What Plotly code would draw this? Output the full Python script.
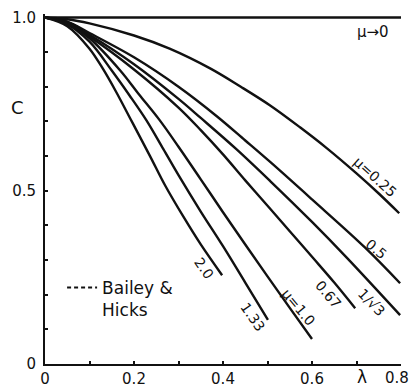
import plotly.graph_objects as go

# ---- data (lambda, C) ----
lam_mu0 = [0.0, 0.8]
c_mu0 = [1.0, 1.0]

lam_025 = [0, 0.05, 0.1, 0.2, 0.28, 0.371, 0.44, 0.506, 0.573, 0.633, 0.7, 0.75, 0.796]
c_025 = [1, 0.995, 0.983, 0.948, 0.91, 0.853, 0.80, 0.746, 0.683, 0.623, 0.55, 0.492, 0.435]

lam_05 = [0, 0.05, 0.1, 0.2, 0.3, 0.386, 0.45, 0.506, 0.6, 0.72, 0.798]
c_05 = [1, 0.988, 0.955, 0.885, 0.80, 0.715, 0.645, 0.583, 0.475, 0.335, 0.233]

lam_rt3 = [0, 0.05, 0.1, 0.2, 0.3, 0.35, 0.43, 0.506, 0.6, 0.678, 0.798]
c_rt3 = [1, 0.987, 0.95, 0.865, 0.765, 0.71, 0.62, 0.528, 0.41, 0.307, 0.141]

lam_067 = [0, 0.05, 0.1, 0.2, 0.3, 0.35, 0.4, 0.45, 0.506, 0.55, 0.603, 0.65, 0.697]
c_067 = [1, 0.985, 0.945, 0.85, 0.74, 0.675, 0.605, 0.53, 0.448, 0.383, 0.305, 0.235, 0.161]

lam_10 = [0, 0.05, 0.1, 0.169, 0.21, 0.258, 0.3, 0.35, 0.4, 0.45, 0.5, 0.55, 0.6]
c_10 = [1, 0.983, 0.94, 0.847, 0.78, 0.703, 0.627, 0.533, 0.438, 0.345, 0.253, 0.162, 0.072]

lam_133 = [0, 0.05, 0.1, 0.15, 0.19, 0.228, 0.266, 0.3, 0.35, 0.4, 0.45, 0.501]
c_133 = [1, 0.98, 0.93, 0.847, 0.775, 0.703, 0.62, 0.545, 0.44, 0.34, 0.235, 0.127]

lam_20 = [0, 0.05, 0.1, 0.131, 0.16, 0.195, 0.236, 0.27, 0.311, 0.35, 0.398]
c_20 = [1, 0.975, 0.91, 0.85, 0.785, 0.70, 0.60, 0.515, 0.425, 0.345, 0.256]

x_tickvals = [0, 0.1, 0.2, 0.3, 0.4, 0.5, 0.6, 0.7, 0.8]
x_ticktext = ["0", "", "0.2", "", "0.4", "", "0.6", "", ""]
x_last_label = "0.8"   # drawn slightly inside the right edge, as in the reference
y_tickvals = [0, 0.1, 0.2, 0.3, 0.4, 0.5, 0.6, 0.7, 0.8, 0.9, 1.0]
y_ticktext = ["0", "", "", "", "", "0.5", "", "", "", "", "1.0"]

curves = [
    (lam_mu0, c_mu0), (lam_025, c_025), (lam_05, c_05), (lam_rt3, c_rt3),
    (lam_067, c_067), (lam_10, c_10), (lam_133, c_133), (lam_20, c_20),
]

# label text, position (data coords), rotation
labels = [
    ("μ→0", 0.737, 0.957, 0),
    ("μ=0.25", 0.742, 0.539, 42),
    ("0.5", 0.744, 0.331, 40),
    ("1/√3", 0.733, 0.179, 46),
    ("0.67", 0.636, 0.202, 50),
    ("μ=1.0", 0.569, 0.164, 50),
    ("1.33", 0.467, 0.135, 55),
    ("2.0", 0.357, 0.277, 55),
]

FONT = "DejaVu Sans"
INK = "#111111"
PW, PH = 356, 350.5  # plot area size in px

fig = go.Figure()
for lx, cy in curves:
    fig.add_trace(go.Scatter(x=lx, y=cy, mode="lines", line=dict(color=INK, width=2.4, shape="spline"),
                             showlegend=False, hoverinfo="skip"))

# legend-only entry for the dashed Bailey & Hicks curves
fig.add_trace(go.Scatter(x=[None], y=[None], mode="lines", name="Bailey &<br>Hicks",
                         line=dict(color=INK, width=2, dash="4px,3px"), showlegend=True))

for txt, x, y, ang in labels:
    fig.add_annotation(x=x, y=y, text=txt, showarrow=False, textangle=ang,
                       font=dict(family=FONT, size=14 if ang else 15, color=INK))

# axis titles and last tick label, placed in paper coordinates
fig.add_annotation(xref="paper", yref="paper", x=-28 / PW, y=1 - 94 / PH, text="C", showarrow=False,
                   xanchor="center", yanchor="middle",
                   font=dict(family=FONT, size=18, color=INK))
fig.add_annotation(xref="paper", yref="paper", x=317 / PW, y=-13 / PH, text="λ", showarrow=False,
                   xanchor="center", yanchor="middle",
                   font=dict(family=FONT, size=17, color=INK))
fig.add_annotation(xref="paper", yref="paper", x=352 / PW, y=-14 / PH, text=x_last_label, showarrow=False,
                   xanchor="center", yanchor="middle",
                   font=dict(family=FONT, size=15, color=INK))

fig.update_xaxes(range=[0, 0.8], tickvals=x_tickvals, ticktext=x_ticktext,
                 showline=True, linecolor=INK, linewidth=2, ticks="inside", ticklen=3,
                 tickcolor=INK, tickwidth=1.5, showgrid=False, zeroline=False,
                 ticklabeloverflow="allow", automargin=False,
                 tickfont=dict(family=FONT, size=15, color=INK))
fig.update_yaxes(range=[0, 1.01], tickvals=y_tickvals, ticktext=y_ticktext,
                 showline=True, linecolor=INK, linewidth=2, ticks="inside", ticklen=3,
                 tickcolor=INK, tickwidth=1.5, showgrid=False, zeroline=False,
                 ticklabelstandoff=4, ticklabeloverflow="allow", automargin=False,
                 tickfont=dict(family=FONT, size=15, color=INK))

fig.update_layout(
    width=410, height=390,
    margin=dict(l=45, r=9, t=13.5, b=26, autoexpand=False),
    paper_bgcolor="white", plot_bgcolor="white",
    legend=dict(x=0.048, y=0.269, xanchor="left", yanchor="top", valign="top",
                font=dict(family=FONT, size=17, color=INK), bgcolor="rgba(0,0,0,0)",
                itemwidth=30, tracegroupgap=0),
    showlegend=True,
)

fig.write_html("out.html")
